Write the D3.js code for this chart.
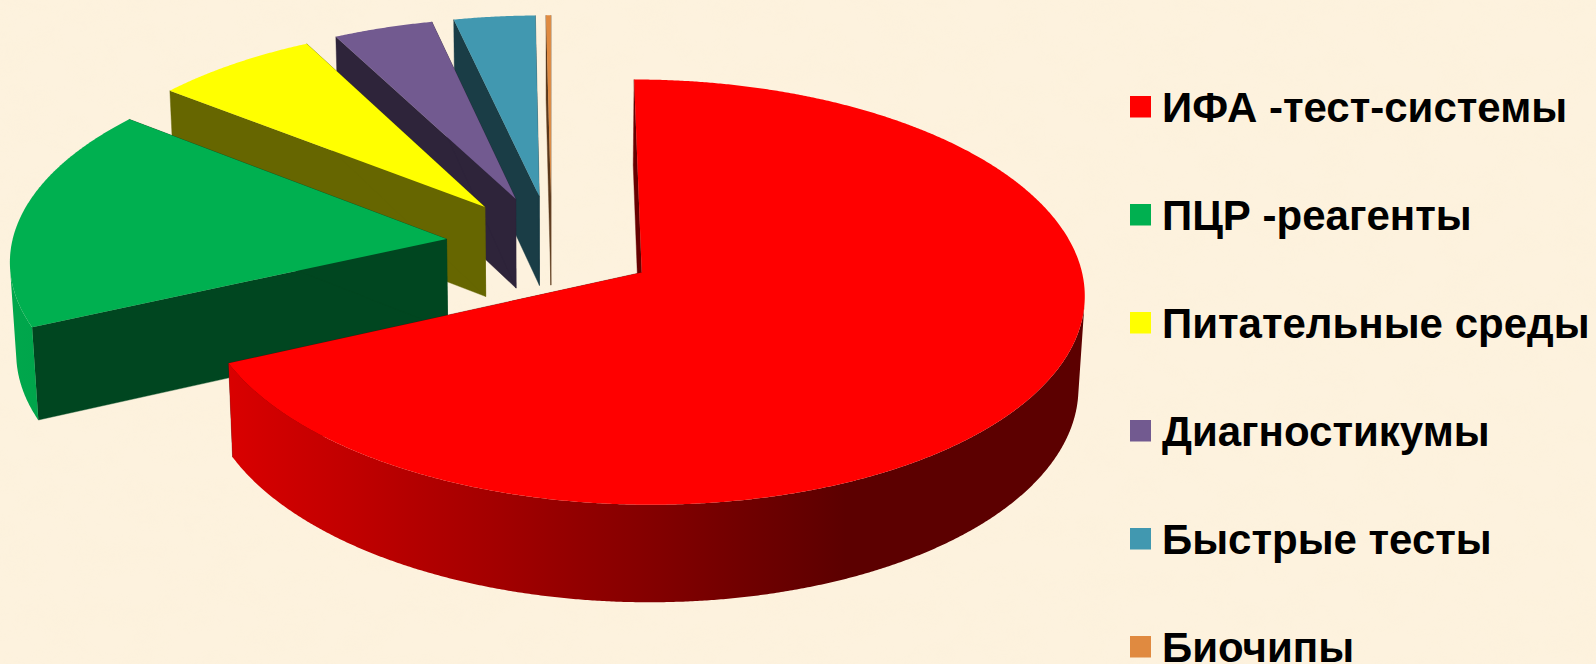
<!DOCTYPE html>
<html lang="ru">
<head>
<meta charset="utf-8">
<title>Структура рынка</title>
<script src="https://cdn.jsdelivr.net/npm/d3@7/dist/d3.min.js"></script>
<style>
  html, body { margin: 0; padding: 0; background: #fdf1dc; overflow: hidden; }
  svg { display: block; }
  text { font-family: "Liberation Sans", Arial, sans-serif; font-weight: 700; fill: #000; }
</style>
</head>
<body>
<svg id="chart" width="1596" height="664"></svg>
<script>
// Chart data
const categories = ["ИФА -тест-системы", "ПЦР -реагенты", "Питательные среды", "Диагностикумы", "Быстрые тесты", "Биочипы"];
const shares = [68.2, 17.4, 6.75, 4.1, 3.35, 0.2];
const colors = ["#ff0000", "#00b050", "#ffff00", "#725a90", "#4198b0", "#e08a40"];

// Scene geometry of the exploded disc and its camera
const W = 1596, H = 664;
const radius = 435, explode = 106, thickness = 104;
const centerX = 551.5, centerY = 245;
const sinElev = 0.473, cosElev = Math.sqrt(1 - sinElev * sinElev), camDist = 4195;
const camGroundY = -camDist * cosElev, camHeight = camDist * sinElev;

function project(x, y, z) {
  const depth = camDist + y * cosElev - z * sinElev;
  const up = y * sinElev + z * cosElev;
  const k = camDist / depth;
  return [centerX + x * k, centerY - up * k];
}

const svg = d3.select("#chart");
const defs = svg.append("defs");

// Parchment background: flat tint with a faint cloudy grain
const grain = defs.append("filter").attr("id", "grain")
  .attr("x", 0).attr("y", 0).attr("width", "100%").attr("height", "100%");
grain.append("feTurbulence").attr("type", "fractalNoise")
  .attr("baseFrequency", "0.025 0.035").attr("numOctaves", 3).attr("seed", 7);
grain.append("feColorMatrix").attr("type", "matrix")
  .attr("values", "0 0 0 0 0.93  0 0 0 0 0.84  0 0 0 0 0.62  0.55 0 0 0 -0.2");
svg.append("rect").attr("width", W).attr("height", H).attr("fill", "#fdf2de");
svg.append("rect").attr("width", W).attr("height", H).attr("filter", "url(#grain)").attr("opacity", 0.3);

const pie = d3.pie().sort(null).value(d => d);
const slices = pie(shares).map((s, i) => ({ ...s, i }));

const line = d3.line();
const rimShade = d3.scaleLinear().domain([10, 230, 845]).range([0.95, 0.85, 0.36]).clamp(true);
const faceShade = 0.4;

function shaded(color, f) {
  const c = d3.rgb(color);
  return d3.rgb(c.r * f, c.g * f, c.b * f).formatHex();
}

// Horizontal lighting across the curved rim of each slice
slices.forEach(s => {
  const g = defs.append("linearGradient").attr("id", "rim" + s.i)
    .attr("gradientUnits", "userSpaceOnUse")
    .attr("x1", rimShade.domain()[0]).attr("x2", rimShade.domain()[2]).attr("y1", 0).attr("y2", 0);
  rimShade.domain().forEach(x => {
    g.append("stop")
      .attr("offset", (x - rimShade.domain()[0]) / (rimShade.domain()[2] - rimShade.domain()[0]))
      .attr("stop-color", shaded(colors[s.i], rimShade(x)));
  });
});

function sliceGeometry(s) {
  const mid = (s.startAngle + s.endAngle) / 2;
  const ox = explode * Math.sin(mid), oy = explode * Math.cos(mid);
  const n = Math.max(2, Math.ceil((s.endAngle - s.startAngle) / 0.005));
  const angles = d3.range(n + 1).map(k => s.startAngle + (s.endAngle - s.startAngle) * k / n);
  const rimPoint = (a, z) => project(ox + radius * Math.sin(a), oy + radius * Math.cos(a), z);
  // part of the curved wall that faces the camera
  const faces = a => {
    const nx = Math.sin(a), ny = Math.cos(a);
    return nx * (0 - (ox + radius * nx)) + ny * (camGroundY - (oy + radius * ny)) > 0;
  };
  const visible = angles.filter(faces);
  return {
    ox, oy, rimPoint, visible,
    top: angles.map(a => rimPoint(a, 0)),
    bottom: angles.map(a => rimPoint(a, -thickness))
  };
}

// Painter's order: the far slices first, the big front slice last
const pieG = svg.append("g");
slices.slice().reverse().forEach(s => {
  const geo = sliceGeometry(s);
  const g = pieG.append("g");
  const apexTop = project(geo.ox, geo.oy, 0), apexBottom = project(geo.ox, geo.oy, -thickness);
  const last = geo.top.length - 1;

  // the two cut faces, behind the rim
  [0, last].forEach(k => {
    g.append("path")
      .attr("d", line([apexTop, geo.top[k], geo.bottom[k], apexBottom]) + "Z")
      .attr("fill", shaded(colors[s.i], faceShade))
      .attr("stroke", shaded(colors[s.i], faceShade)).attr("stroke-width", 0.4);
  });
  // outer rim, only where it turns towards the camera
  if (geo.visible.length > 1) {
    const upper = geo.visible.map(a => geo.rimPoint(a, 0));
    const lower = geo.visible.map(a => geo.rimPoint(a, -thickness));
    g.append("path").attr("d", line(upper.concat(lower.reverse())) + "Z")
      .attr("fill", `url(#rim${s.i})`);
  }
  // top surface
  g.append("path").attr("d", line([apexTop].concat(geo.top)) + "Z").attr("fill", colors[s.i]);
});

// Legend
const legendY = d3.scalePoint().domain(categories).range([107, 647]);
const legend = svg.append("g").selectAll("g").data(categories).join("g")
  .attr("transform", d => `translate(0,${legendY(d)})`);
legend.append("rect").attr("x", 1130).attr("y", -11).attr("width", 21).attr("height", 21.5)
  .attr("fill", (d, i) => colors[i]);
legend.append("text").attr("x", 1162).attr("y", 14.5)
  .attr("font-size", 42)
  .text(d => d);
</script>
</body>
</html>
